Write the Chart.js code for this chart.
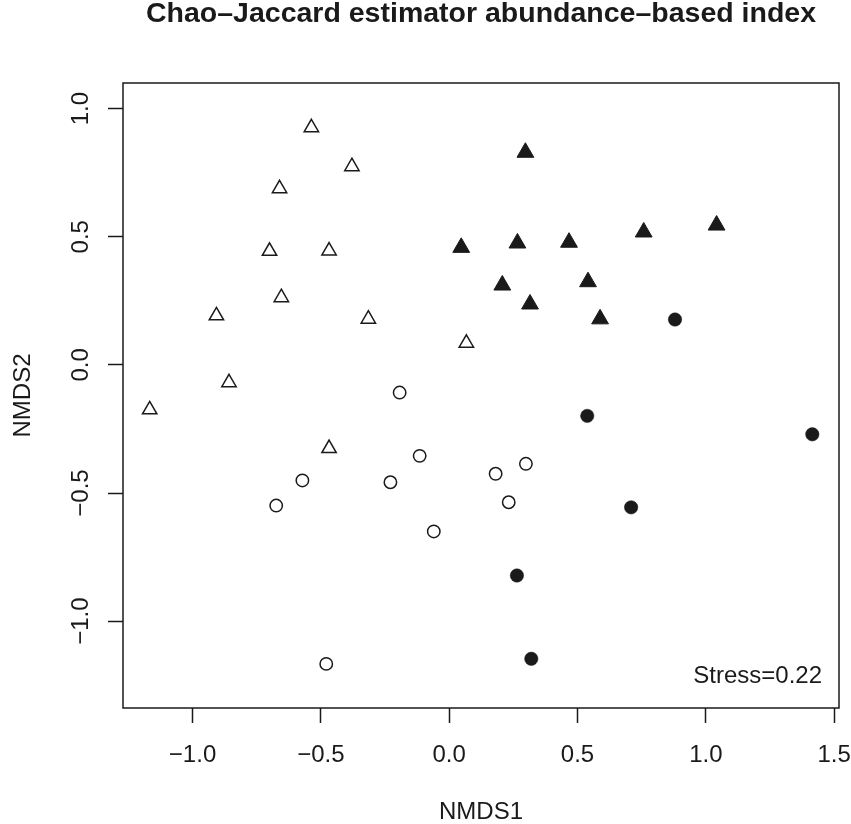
<!DOCTYPE html>
<html><head><meta charset="utf-8"><title>Chao-Jaccard NMDS</title>
<script src="https://cdn.jsdelivr.net/npm/chart.js@4.4.1/dist/chart.umd.min.js"></script>
<style>html,body{margin:0;padding:0;background:#fff}#wrap{width:851px;height:824px}</style>
</head><body><div id="wrap"><canvas id="c" width="851" height="824"></canvas></div>
<script>
// NMDS scores, one array per group [NMDS1, NMDS2]
const openTri=[[-0.537,0.926],[-0.379,0.774],[-0.661,0.688],[-0.700,0.444],[-0.468,0.445],[-0.654,0.263],
  [-0.907,0.192],[-0.315,0.179],[0.067,0.085],[-0.858,-0.069],[-1.167,-0.175],[-0.468,-0.326]];
const fillTri=[[0.297,0.829],[0.047,0.458],[0.266,0.475],[0.467,0.478],[0.758,0.518],[1.042,0.545],
  [0.207,0.311],[0.541,0.324],[0.315,0.237],[0.588,0.179]];
const openCirc=[[-0.193,-0.108],[-0.115,-0.355],[-0.572,-0.451],[-0.229,-0.458],[-0.674,-0.549],[-0.060,-0.650],
  [0.181,-0.425],[0.232,-0.536],[0.299,-0.386],[-0.479,-1.167]];
const fillCirc=[[0.880,0.177],[0.538,-0.199],[1.415,-0.271],[0.709,-0.556],[0.264,-0.822],[0.320,-1.147]];
const xTicks=[-1,-0.5,0,0.5,1,1.5];
const yTicks=[-1,-0.5,0,0.5,1];
const xRange=[-1.271,1.519], yRange=[-1.339,1.100];
const mainTitle='Chao\u2013Jaccard estimator abundance\u2013based index';
const stressLabel='Stress=0.22';

const INK='#1a1a1a', FAM='"Liberation Sans", Arial, Helvetica, sans-serif';
Chart.defaults.font.family=FAM;
Chart.defaults.color=INK;

const fmt=v=>(v<0?'\u2212':'')+Math.abs(v).toFixed(1);
const pts=a=>a.map(([x,y])=>({x,y}));
const grp=(data,style,r,bw,fill)=>({data:pts(data),pointStyle:style,pointRadius:r,pointHoverRadius:r,
  pointBorderWidth:bw,pointHoverBorderWidth:bw,pointBorderColor:INK,pointBackgroundColor:fill,showLine:false});

const frame={id:'frame',afterDraw(ch){
  const {ctx,chartArea:a}=ch;
  ctx.save();
  ctx.strokeStyle=INK; ctx.lineWidth=1.5;
  ctx.strokeRect(a.left,a.top,a.right-a.left,a.bottom-a.top);
  ctx.font='24px '+FAM; ctx.fillStyle=INK; ctx.textAlign='right'; ctx.textBaseline='alphabetic';
  ctx.fillText(stressLabel,a.right-17,a.bottom-25);
  ctx.restore();
}};

const tickGrid={drawOnChartArea:false,tickLength:15,tickColor:INK,tickWidth:1.5};

new Chart(document.getElementById('c'),{
  type:'scatter',
  data:{datasets:[
    grp(openTri,'triangle',8.3,1.5,'#fff'),
    grp(fillTri,'triangle',9.7,1,INK),
    grp(openCirc,'circle',6.2,1.5,'#fff'),
    grp(fillCirc,'circle',6.7,0.5,INK)
  ]},
  options:{responsive:false,animation:false,events:[],
    layout:{padding:{left:0,right:12,top:0,bottom:0}},
    plugins:{legend:{display:false},tooltip:{enabled:false},
      title:{display:true,text:mainTitle,fullSize:false,color:INK,
        font:{size:28.5,weight:'bold',lineHeight:1},padding:{top:0.2,bottom:54.3}}},
    scales:{
      x:{type:'linear',position:'bottom',min:xRange[0],max:xRange[1],
        afterBuildTicks:s=>{s.ticks=xTicks.map(v=>({value:v}));},
        afterFit:s=>{s.height=116;s.paddingLeft=0;s.paddingRight=0;},
        border:{display:false},grid:tickGrid,
        ticks:{callback:fmt,font:{size:24},color:INK,padding:17.5,maxRotation:0,autoSkip:false},
        title:{display:true,text:'NMDS1',color:INK,font:{size:24,lineHeight:1},padding:{top:0,bottom:0}}},
      y:{type:'linear',position:'left',min:yRange[0],max:yRange[1],
        afterBuildTicks:s=>{s.ticks=yTicks.map(v=>({value:v}));},
        afterFit:s=>{s.width=123;s.paddingTop=0;s.paddingBottom=0;},
        border:{display:false},grid:tickGrid,
        ticks:{callback:fmt,font:{size:24},color:INK,padding:2.6,minRotation:90,maxRotation:90,crossAlign:'center',autoSkip:false},
        title:{display:true,text:'NMDS2',color:INK,font:{size:24,lineHeight:1},padding:{top:11,bottom:0}}}
    }
  },
  plugins:[frame]
});
</script></body></html>
